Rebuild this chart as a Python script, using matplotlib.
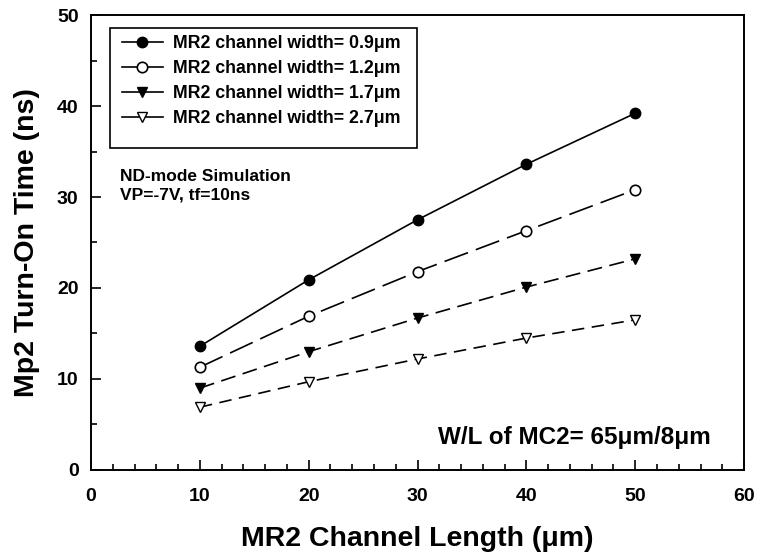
import matplotlib.pyplot as plt
from matplotlib.lines import Line2D
from matplotlib.patches import Rectangle
from matplotlib.ticker import MultipleLocator

plt.rcParams['font.family'] = ['Liberation Sans', 'DejaVu Sans']
plt.rcParams['font.weight'] = 'bold'

lengths = [10, 20, 30, 40, 50]
w09 = [13.6, 20.9, 27.5, 33.6, 39.2]
w12 = [11.3, 16.9, 21.8, 26.3, 30.8]
w17 = [9.0, 13.0, 16.7, 20.1, 23.2]
w27 = [6.9, 9.7, 12.2, 14.5, 16.5]
labels = ['MR2 channel width= 0.9\u03bcm', 'MR2 channel width= 1.2\u03bcm',
          'MR2 channel width= 1.7\u03bcm', 'MR2 channel width= 2.7\u03bcm']

fig = plt.figure(figsize=(7.58, 5.56), dpi=100)
ax = fig.add_axes([0.1201, 0.1547, 0.8615, 0.8183])

ms = 7.5
ax.plot(lengths, w09, 'k-', marker='o', ms=ms, mfc='k', lw=1.2)
ax.plot(lengths, w12, 'k', ls=(0, (15, 5)), marker='o', ms=ms, mfc='white', mew=1.2, lw=1.2)
ax.plot(lengths, w17, 'k', ls=(0, (9, 4.5)), marker='v', ms=ms, mfc='k', lw=1.2)
ax.plot(lengths, w27, 'k', ls=(0, (7.5, 4.5)), marker='v', ms=ms, mfc='white', mew=1.0, lw=1.2)

ax.set_xlim(0, 60)
ax.set_ylim(0, 50)
ax.xaxis.set_major_locator(MultipleLocator(10))
ax.xaxis.set_minor_locator(MultipleLocator(2))
ax.yaxis.set_major_locator(MultipleLocator(10))
ax.yaxis.set_minor_locator(MultipleLocator(5))
ax.tick_params(which='both', direction='in', top=False, right=False, labelsize=14, width=1.2)
ax.tick_params(which='major', length=7)
ax.tick_params(which='minor', length=4)
ax.tick_params(axis='x', which='major', pad=13)
ax.tick_params(axis='y', which='major', pad=9)
for lab in ax.get_xticklabels() + ax.get_yticklabels():
    lab.set_fontweight('bold')
for s in ax.spines.values():
    s.set_linewidth(1.4)

ax.set_xlabel('MR2 Channel Length (\u03bcm)', fontsize=20.5, fontweight='bold', labelpad=15)
ax.set_ylabel('Mp2 Turn-On Time (ns)', fontsize=20.5, fontweight='bold', labelpad=12)

# legend: short solid handles like the original
handles = [
    Line2D([], [], color='k', lw=1.2, marker='o', ms=ms, mfc='k'),
    Line2D([], [], color='k', lw=1.2, marker='o', ms=ms, mfc='white', mew=1.2),
    Line2D([], [], color='k', lw=1.2, marker='v', ms=ms, mfc='k'),
    Line2D([], [], color='k', lw=1.2, marker='v', ms=ms, mfc='white', mew=1.0),
]
leg = ax.legend(handles, labels, loc='upper left', bbox_to_anchor=(0.0475, 0.955),
                borderaxespad=0, borderpad=0, fontsize=12.8, frameon=False,
                handlelength=2.3, handletextpad=0.55, labelspacing=0.45)
for t in leg.get_texts():
    t.set_fontweight('bold')
ax.add_patch(Rectangle((0.029, 0.708), 0.470, 0.263, transform=ax.transAxes,
                       fill=False, ec='k', lw=1.2, zorder=5))

ax.text(0.044, 0.662, 'ND-mode Simulation\nVP=-7V, tf=10ns', transform=ax.transAxes,
        fontsize=12.5, fontweight='bold', va='top', linespacing=1.35)
ax.text(0.949, 0.0725, 'W/L of MC2= 65\u03bcm/8\u03bcm', transform=ax.transAxes,
        fontsize=17.5, fontweight='bold', ha='right', va='center')

fig.savefig('out.png', dpi=100)
